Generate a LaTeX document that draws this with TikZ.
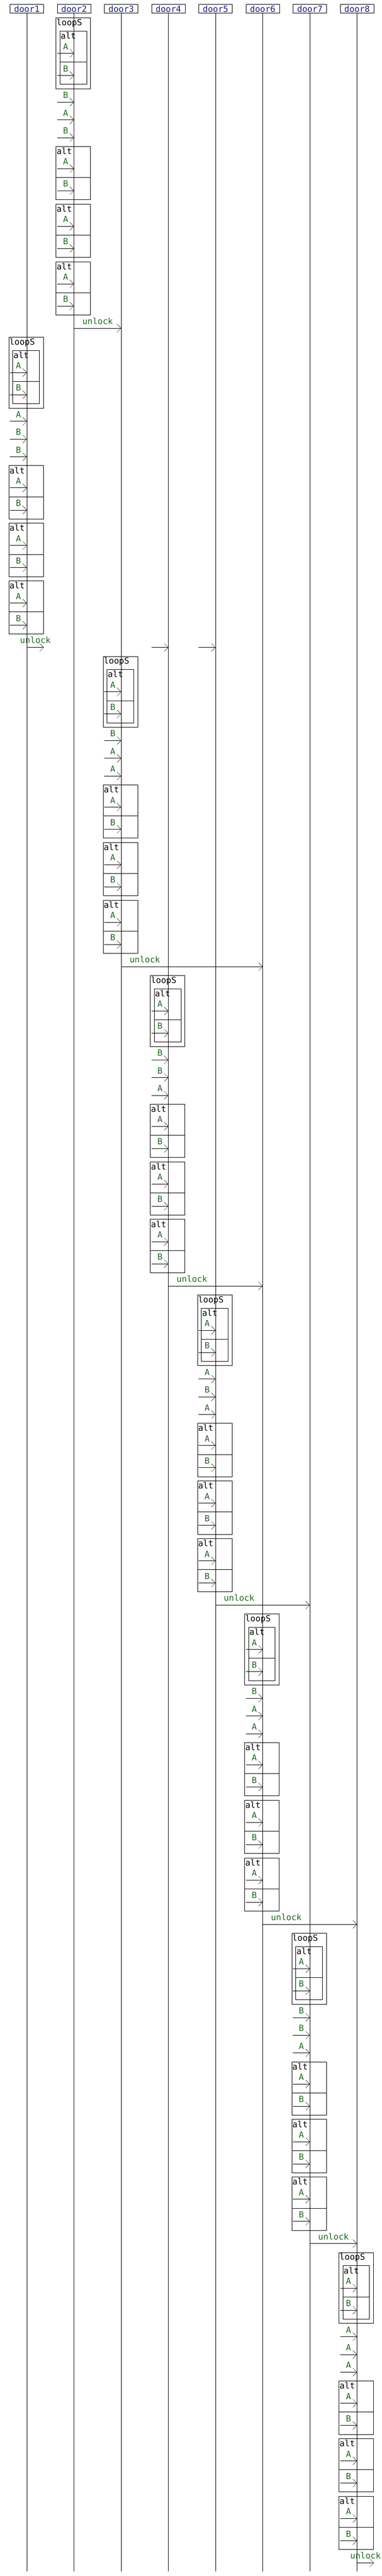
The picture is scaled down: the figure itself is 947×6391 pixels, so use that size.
\documentclass[tikz,border=0pt]{standalone}
\usepackage{fontspec}
\usetikzlibrary{arrows.meta}
\newfontfamily\monofam{DejaVu Sans Mono}
\definecolor{hdrblue}{RGB}{30,30,140}
\definecolor{msggreen}{RGB}{28,106,28}

\tikzset{
	head/.style={draw, line width=1pt, minimum width=83pt, minimum height=21pt, inner sep=0pt, text=hdrblue, font={\monofam\fontsize{21pt}{24pt}\selectfont}},
	life/.style={line width=1pt},
	frame/.style={draw, line width=1pt},
	msg/.style={line width=1pt, -{Straight Barb[length=10pt,width=20pt,line width=0.6pt]}},
	lbl/.style={text=msggreen, font={\monofam\fontsize{21pt}{24pt}\selectfont}, inner sep=0pt, anchor=base},
	tag/.style={font={\monofam\fontsize{21pt}{24pt}\selectfont}, inner sep=0pt, anchor=base west}
}

%message coming in from the left to a lifeline
\newcommand{\sendmsg}[3]{%
	\pgfmathsetmacro{\my}{#2}
	\coordinate (tip) at (#1 |- 0,\my);
	\coordinate (tail) at ([xshift=-42pt]tip);
	\draw[msg] (tail) -- node[lbl, yshift=9.5pt] (msgtext) {#3} (tip);
}
%alt box with A over B
\newcommand{\altbox}[4]{%
	\pgfmathsetmacro{\ya}{#2}
	\pgfmathsetmacro{\yb}{#2+132}
	\pgfmathsetmacro{\yd}{#2+77}
	\coordinate (at) at (#1 |- 0,\ya);
	\coordinate (ab) at (#1 |- 0,\yb);
	\coordinate (ad) at (#1 |- 0,\yd);
	\draw[frame] ([xshift=#3pt]at) rectangle ([xshift=#4pt]ab);
	\draw[frame] ([xshift=#3pt]ad) -- ([xshift=#4pt]ad);
	\node[tag] (alttag) at ([xshift=#3pt+1.5pt, yshift=-19.4pt]at) {alt};
	\sendmsg{#1}{\ya+55}{A}
	\sendmsg{#1}{\ya+110}{B}
}
%loopS, three messages, three alts
\newcommand{\doorblock}[5]{%
	\pgfmathsetmacro{\tp}{#2}
	\pgfmathsetmacro{\bt}{#2+176}
	\coordinate (lt) at (#1 |- 0,\tp);
	\coordinate (lb) at (#1 |- 0,\bt);
	\draw[frame] ([xshift=-45pt]lt) rectangle ([xshift=41pt]lb);
	\node[tag] (looptag) at ([xshift=-43.5pt, yshift=-19pt]lt) {loopS};
	\altbox{#1}{#2+33}{-35}{31}
	\sendmsg{#1}{#2+209}{#3}
	\sendmsg{#1}{#2+253}{#4}
	\sendmsg{#1}{#2+297}{#5}
	\altbox{#1}{#2+319}{-45}{41}
	\altbox{#1}{#2+462}{-45}{41}
	\altbox{#1}{#2+605}{-45}{41}
}
%unlock from one door to another
\newcommand{\unlock}[3]{%
	\pgfmathsetmacro{\uy}{#3}
	\coordinate (us) at (#1 |- 0,\uy);
	\coordinate (ue) at (#2 |- 0,\uy);
	\draw[msg] (us) -- (ue);
	\node[lbl, yshift=10pt] (unlocktext) at ([xshift=58.5pt]us) {unlock};
}

\begin{document}
\begin{tikzpicture}[x=1pt, y=-1pt]
	\useasboundingbox (0,0) rectangle (947,6391);
	%Heads and lifelines
		\coordinate (bottom) at (0,6380);
		\foreach \i in {1,...,8} {
			\node[head] (door\i) at ({66.7+(\i-1)*116.94},21.8) {door\i};
			\draw[life] (door\i.south) -- (door\i.south |- bottom);
		}
	%door2
		\doorblock{door2}{44.3}{B}{A}{B}
		\unlock{door2}{door3}{814.3}
	%door1
		\doorblock{door1}{836.3}{A}{B}{B}
		%unlock going out to the right
		\coordinate (d1out) at ([xshift=42pt]door1 |- 0,1606.3);
		\coordinate (d1from) at (door1 |- 0,1606.3);
		\draw[msg] (d1from) -- node[lbl, yshift=10pt] (d1text) {unlock} (d1out);
		%bare arrows into door4 and door5
		\coordinate (d4in) at (door4 |- 0,1606.3);
		\coordinate (d5in) at (door5 |- 0,1606.3);
		\draw[msg] ([xshift=-42pt]d4in) -- (d4in);
		\draw[msg] ([xshift=-42pt]d5in) -- (d5in);
	%door3
		\doorblock{door3}{1628.3}{B}{A}{A}
		\unlock{door3}{door6}{2398.3}
	%door4
		\doorblock{door4}{2420.3}{B}{B}{A}
		\unlock{door4}{door6}{3190.3}
	%door5
		\doorblock{door5}{3212.3}{A}{B}{A}
		\unlock{door5}{door7}{3982.3}
	%door6
		\doorblock{door6}{4004.3}{B}{A}{A}
		\unlock{door6}{door8}{4774.3}
	%door7
		\doorblock{door7}{4796.3}{B}{B}{A}
		\unlock{door7}{door8}{5566.3}
	%door8
		\doorblock{door8}{5588.3}{A}{A}{A}
		%unlock going out to the right
		\coordinate (d8from) at (door8 |- 0,6358.3);
		\coordinate (d8out) at ([xshift=42pt]d8from);
		\draw[msg] (d8from) -- node[lbl, yshift=10pt] (d8text) {unlock} (d8out);
\end{tikzpicture}
\end{document}
